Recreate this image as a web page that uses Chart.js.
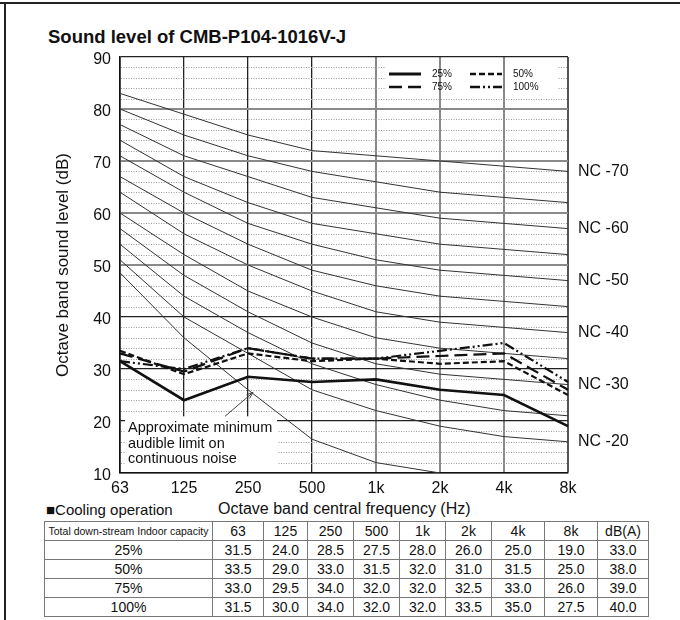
<!DOCTYPE html>
<html lang="en">
<head>
<meta charset="UTF-8">
<title>Sound level of CMB-P104-1016V-J</title>
<script src="https://cdn.jsdelivr.net/npm/chart.js"></script>
<style>
  body { margin: 0; background: #fff; }
  #page { position: relative; width: 680px; height: 620px; overflow: hidden;
          font-family: "Liberation Sans", Arial, sans-serif; color: #111; }
  #frameTop { position: absolute; left: 0; top: 2px; width: 680px; height: 2px; background: #222; }
  #frameLeft { position: absolute; left: 4px; top: 2px; width: 2px; height: 618px; background: #222; }
  #title { position: absolute; left: 48px; top: 26px; font-size: 18.5px; font-weight: bold; white-space: nowrap; }
  #chart { position: absolute; left: 0; top: 0; }
  #mode { position: absolute; left: 46px; top: 501px; font-size: 15px; white-space: nowrap; }
  #xTitle { position: absolute; left: 218px; top: 500px; font-size: 16px; white-space: nowrap; }
  #levels { position: absolute; left: 44px; top: 521px; width: 604px; border-collapse: collapse; table-layout: fixed; }
  #levels td { border: 1px solid #777; height: 18px; padding: 0; text-align: center; font-size: 14px;
               line-height: 18px; white-space: nowrap; overflow: hidden; }
  #levels tr.dark td { border-top-color: #222; }
  #levels td.head { font-size: 10.5px; }
</style>
</head>
<body>
<div id="page">
  <div id="frameTop"></div>
  <div id="frameLeft"></div>
  <div id="title">Sound level of CMB-P104-1016V-J</div>
  <canvas id="chart" width="680" height="500"></canvas>
  <div id="mode">■Cooling operation</div>
  <div id="xTitle">Octave band central frequency (Hz)</div>
  <table id="levels">
    <colgroup>
      <col style="width:168px"><col style="width:51px"><col style="width:44px"><col style="width:46px">
      <col style="width:46px"><col style="width:46px"><col style="width:46px"><col style="width:53px">
      <col style="width:53px"><col style="width:51px">
    </colgroup>
    <tbody></tbody>
  </table>
</div>
<script>
    // octave bands and measured levels (dB) per capacity
    const bands = ['63', '125', '250', '500', '1k', '2k', '4k', '8k'];
    const yTickValues = [10, 20, 30, 40, 50, 60, 70, 80, 90];
    const capacities = ['25%', '50%', '75%', '100%'];
    const cap25 = [31.5, 24.0, 28.5, 27.5, 28.0, 26.0, 25.0, 19.0];
    const cap50 = [33.5, 29.0, 33.0, 31.5, 32.0, 31.0, 31.5, 25.0];
    const cap75 = [33.0, 29.5, 34.0, 32.0, 32.0, 32.5, 33.0, 26.0];
    const cap100 = [31.5, 30.0, 34.0, 32.0, 32.0, 33.5, 35.0, 27.5];
    const dBA = [33.0, 38.0, 39.0, 40.0];

    // NC reference curves
    const nc20 = [51, 40, 33, 26, 22, 19, 17, 16];
    const nc25 = [54, 44, 37, 31, 27, 24, 22, 21];
    const nc30 = [57, 48, 41, 35, 31, 29, 28, 27];
    const nc35 = [60, 52, 45, 40, 36, 34, 33, 32];
    const nc40 = [64, 56, 50, 45, 41, 39, 38, 37];
    const nc45 = [67, 60, 54, 49, 46, 44, 43, 42];
    const nc50 = [71, 64, 58, 54, 51, 49, 48, 47];
    const nc55 = [74, 67, 62, 58, 56, 54, 53, 52];
    const nc60 = [77, 71, 67, 63, 61, 59, 58, 57];
    const nc65 = [80, 75, 71, 68, 66, 64, 63, 62];
    const nc70 = [83, 79, 75, 72, 71, 70, 69, 68];
    const minAudible = [48.5, 36, 26, 16.5, 12, 10, null, null];
    const ncLabelled = ['NC -70', 'NC -60', 'NC -50', 'NC -40', 'NC -30', 'NC -20'];

    const FONT = '"Liberation Sans", Arial, sans-serif';
    Chart.defaults.font.family = FONT;
    Chart.defaults.color = '#111';

    // table
    const tbody = document.querySelector('#levels tbody');
    function addRow(cells, cls, headFirst) {
        const tr = document.createElement('tr');
        if (cls) tr.className = cls;
        cells.forEach((c, i) => {
            const td = document.createElement('td');
            if (i === 0 && headFirst) td.className = 'head';
            td.textContent = c;
            tr.appendChild(td);
        });
        tbody.appendChild(tr);
    }
    addRow(['Total down-stream Indoor capacity', ...bands, 'dB(A)'], '', true);
    [cap25, cap50, cap75, cap100].forEach((row, i) => {
        addRow([capacities[i], ...row.map(v => v.toFixed(1)), dBA[i].toFixed(1)], i === 2 ? 'dark' : '', false);
    });

    const ncSet = [nc70, nc65, nc60, nc55, nc50, nc45, nc40, nc35, nc30, nc25, nc20];
    const ncNames = ['NC -70', 'NC -65', 'NC -60', 'NC -55', 'NC -50', 'NC -45', 'NC -40', 'NC -35', 'NC -30', 'NC -25', 'NC -20'];

    const measured = [
        { label: capacities[0], data: cap25, borderColor: '#111', borderWidth: 2.6, borderDash: [] },
        { label: capacities[1], data: cap50, borderColor: '#111', borderWidth: 2.2, borderDash: [6, 3] },
        { label: capacities[2], data: cap75, borderColor: '#111', borderWidth: 2.2, borderDash: [13, 6] },
        { label: capacities[3], data: cap100, borderColor: '#111', borderWidth: 2.2, borderDash: [10, 3, 2, 3, 2, 3] }
    ];
    const references = ncSet.map((d, i) => ({
        label: ncNames[i], data: d, borderColor: '#333', borderWidth: 1, borderDash: []
    }));
    references.push({ label: 'Minimum audible', data: minAudible, borderColor: '#333', borderWidth: 1, borderDash: [] });

    const decorations = {
        id: 'decorations',
        beforeDatasetsDraw(chart) {
            const { ctx, chartArea: a, scales: { x, y } } = chart;
            ctx.save();
            // dotted minor grid every 2 dB
            ctx.strokeStyle = '#9a9a9a';
            ctx.lineWidth = 1;
            ctx.setLineDash([1, 1.5]);
            for (let v = 12; v < 90; v += 2) {
                if (v % 10 === 0) continue;
                const py = Math.round(y.getPixelForValue(v)) + 0.5;
                ctx.beginPath(); ctx.moveTo(a.left + 1, py); ctx.lineTo(a.right - 1, py); ctx.stroke();
            }
            ctx.setLineDash([]);
            // white patch behind legend
            ctx.fillStyle = '#fff';
            ctx.fillRect(a.right - 183, a.top + 2, 172, 35);
            ctx.strokeStyle = '#888';
            ctx.lineWidth = 2;
            [5, 6].forEach(i => {
                const px = x.getPixelForValue(i);
                ctx.beginPath(); ctx.moveTo(px, a.top + 1); ctx.lineTo(px, a.top + 38); ctx.stroke();
            });
            // white box behind note
            const boxTop = y.getPixelForValue(20.9);
            ctx.fillStyle = '#fff';
            ctx.fillRect(a.left + 5, boxTop, x.getPixelForValue(2) + 29 - a.left - 5, a.bottom - boxTop - 1);
            ctx.restore();
        },
        afterDatasetsDraw(chart) {
            const { ctx, chartArea: a, scales: { x, y } } = chart;
            ctx.save();
            // legend, 2 x 2
            ctx.font = '10px ' + FONT;
            ctx.textBaseline = 'middle';
            ctx.fillStyle = '#111';
            chart.data.datasets.slice(0, 4).forEach((ds, i) => {
                const col = i % 2, row = Math.floor(i / 2);
                const lx = a.right - 179 + col * 81;
                const ly = a.top + 17 + row * 13;
                ctx.strokeStyle = ds.borderColor;
                ctx.lineWidth = ds.borderWidth + 0.4;
                ctx.setLineDash(ds.borderDash);
                ctx.beginPath(); ctx.moveTo(lx, ly); ctx.lineTo(lx + 32, ly); ctx.stroke();
                ctx.setLineDash([]);
                ctx.fillText(ds.label, lx + 43, ly);
            });
            // note box text and arrow
            const boxTop = y.getPixelForValue(20.9);
            ctx.font = '14.5px ' + FONT;
            ctx.textBaseline = 'middle';
            ['Approximate minimum', 'audible limit on', 'continuous noise'].forEach((t, i) => {
                ctx.fillText(t, a.left + 8, boxTop + 12 + i * 15.5);
            });
            const sx = x.getPixelForValue(1) + 41, sy = boxTop;
            const ex = x.getPixelForValue(2) + 5, ey = y.getPixelForValue(25.5);
            ctx.strokeStyle = '#444';
            ctx.lineWidth = 1;
            ctx.beginPath(); ctx.moveTo(sx, sy); ctx.lineTo(ex, ey); ctx.stroke();
            const ang = Math.atan2(ey - sy, ex - sx);
            ctx.beginPath();
            ctx.moveTo(ex - 7 * Math.cos(ang - 0.35), ey - 7 * Math.sin(ang - 0.35));
            ctx.lineTo(ex, ey);
            ctx.lineTo(ex - 7 * Math.cos(ang + 0.35), ey - 7 * Math.sin(ang + 0.35));
            ctx.stroke();
            // NC labels at the 8k end of the curves
            ctx.font = '16px ' + FONT;
            ctx.fillStyle = '#111';
            ncNames.forEach((n, i) => {
                if (!ncLabelled.includes(n)) return;
                const last = ncSet[i][ncSet[i].length - 1];
                ctx.fillText(n, a.right + 10, y.getPixelForValue(last));
            });
            ctx.restore();
        }
    };

    const xGridColor = ctx => (ctx.index === 0 ? '#111' : ctx.index <= 3 ? '#222' : ctx.index === 7 ? '#555' : '#8a8a8a');
    const xGridWidth = ctx => (ctx.index === 0 ? 1.5 : ctx.index <= 3 ? 1.3 : 2);
    const yGridColor = ctx => {
        const v = ctx.tick.value;
        return v >= 50 && v <= 80 ? '#8a8a8a' : '#222';
    };
    const yGridWidth = ctx => {
        const v = ctx.tick.value;
        return v >= 50 && v <= 80 ? 2 : 1.2;
    };

    const chart = new Chart(document.getElementById('chart').getContext('2d'), {
        type: 'line',
        data: {
            labels: bands,
            datasets: measured.concat(references).map(ds => Object.assign({ pointRadius: 0, tension: 0, fill: false }, ds))
        },
        options: {
            responsive: false,
            animation: false,
            events: [],
            layout: { padding: { top: 57, right: 112, left: 0, bottom: 0 } },
            plugins: { legend: { display: false }, tooltip: { enabled: false } },
            scales: {
                x: {
                    grid: { color: xGridColor, lineWidth: xGridWidth, drawTicks: false },
                    border: { color: '#111', width: 1.5 },
                    ticks: { color: '#111', font: { size: 16 }, padding: 6, autoSkip: false, maxRotation: 0 },
                    afterFit(s) { s.height = 27; }
                },
                y: {
                    min: 10,
                    max: 90,
                    afterBuildTicks(s) { s.ticks = yTickValues.map(v => ({ value: v })); },
                    grid: { color: yGridColor, lineWidth: yGridWidth, drawTicks: false },
                    border: { color: '#111', width: 1.5 },
                    ticks: { color: '#111', font: { size: 16 }, padding: 9, labelOffset: 3 },
                    title: {
                        display: true,
                        text: 'Octave band sound level (dB)',
                        color: '#111',
                        font: { size: 17 },
                        padding: { top: 53, bottom: 0 }
                    },
                    afterFit(s) { s.width = 120; }
                }
            }
        },
        plugins: [decorations]
    });
</script>
</body>
</html>
